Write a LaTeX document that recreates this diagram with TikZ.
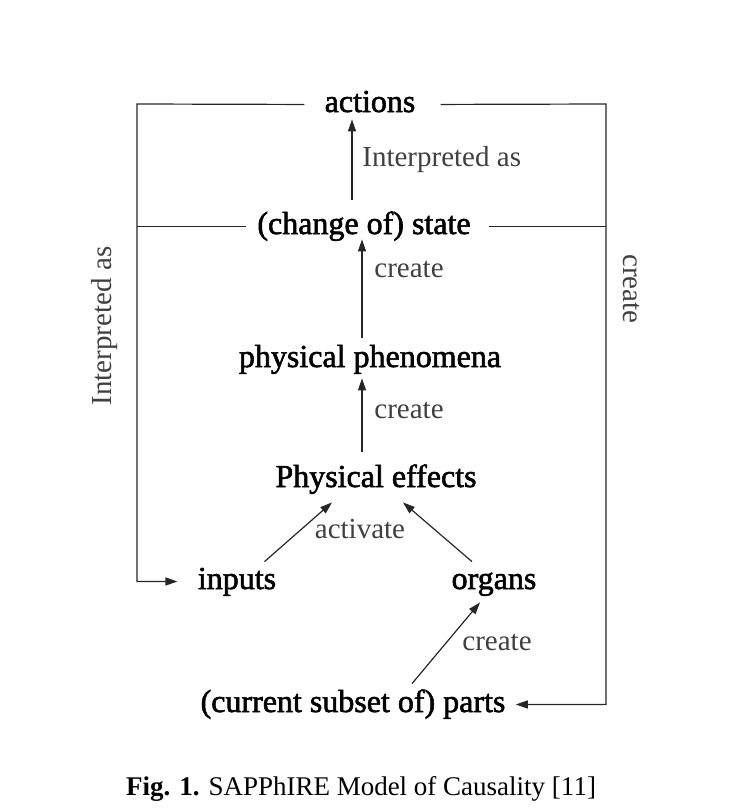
\documentclass[tikz,border=0pt]{standalone}
\usepackage{fontspec}
\setmainfont{Liberation Serif}
\newfontfamily\heavyfont[FakeBold=1.8]{Liberation Serif}
\usetikzlibrary{arrows.meta}
\tikzset{
  stage/.style={font=\heavyfont\fontsize{16}{19}\selectfont, inner sep=0pt, text height=11pt, text depth=3.5pt, anchor=base},
  lbl/.style={font=\fontsize{14.5}{17}\selectfont, text=black!75, inner sep=0pt},
  wire/.style={draw=black!85, line width=0.6pt},
  arr/.style={-{Triangle[length=6pt,width=4pt]}},
}
\begin{document}
\begin{tikzpicture}[x=0.5pt, y=-0.5pt]
  \useasboundingbox (0,0) rectangle (736,809);
  % stages of the causal chain
  \node[stage] (actions) at (370,112) {actions};
  \node[stage] (state) at (364,234) {(change of) state};
  \node[stage] (phen) at (370,367) {physical phenomena};
  \node[stage] (effects) at (376,487) {Physical effects};
  \node[stage] (inputs) at (237,589) {inputs};
  \node[stage] (organs) at (494,589) {organs};
  \node[stage] (parts) at (353,712) {(current subset of) parts};
  % frame corners and the axes of the upward arrows
  \coordinate (tl) at (137,104); \coordinate (tr) at (606,104);
  \coordinate (ax1) at (352,0); \coordinate (ax2) at (362,0);
  % outer loop
  \draw[wire, arr, shorten <=10pt, shorten >=10pt] (actions.west) -- (tl) |- (inputs.west);
  \draw[wire, arr, shorten <=12.5pt, shorten >=5pt] (actions.east) -- (tr) |- (parts.east);
  \draw[wire, shorten <=5.5pt] (state.west) -- (tl |- state.west);
  \draw[wire, shorten <=9pt] (state.east) -- (tr |- state.east);
  % chain
  \draw[wire, arr, shorten <=6pt] (state.north -| ax1) -- (actions.south -| ax1);
  \draw[wire, arr, shorten <=3.5pt, shorten >=-1pt] (phen.north -| ax2) -- (state.south -| ax2);
  \draw[wire, arr, shorten <=6.5pt, shorten >=2pt] (effects.north -| ax2) -- (phen.south -| ax2);
  \draw[wire, arr] ([shift={(-12,-5)}]inputs.north east) -- ([shift={(-44,8)}]effects.south);
  \draw[wire, arr] ([shift={(-22,-5)}]organs.north) -- ([shift={(27,8)}]effects.south);
  \draw[wire, arr] ([shift={(59,-6)}]parts.north) -- ([shift={(-14,6)}]organs.south);
  % labels
  \node[lbl, anchor=base west] (interp) at (362,166) {Interpreted as};
  \node[lbl, anchor=base west] (cr1) at (374,277) {create};
  \node[lbl, anchor=base west] (cr2) at (374,418) {create};
  \node[lbl, anchor=base] (activ) at (360,538) {activate};
  \node[lbl, anchor=base] (cr3) at (497,650) {create};
  \node[lbl, rotate=90] (interpL) at (105,326) {Interpreted as};
  \node[lbl, rotate=-90] (crR) at (632,289) {create};
  \node[font=\fontsize{13.5}{16}\selectfont, anchor=base] (cap) at (361,795) {\textbf{Fig. 1.} SAPPhIRE Model of Causality [11]};
\end{tikzpicture}
\end{document}
